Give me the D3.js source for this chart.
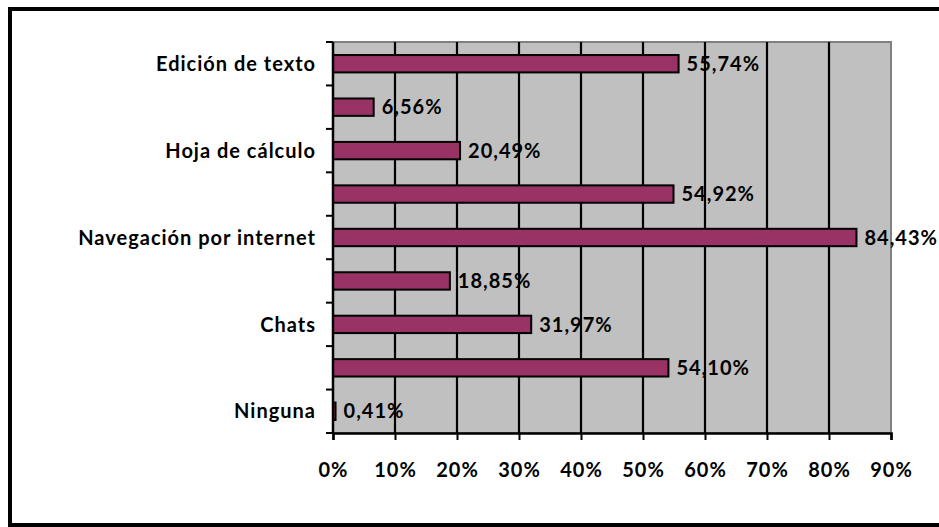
<!DOCTYPE html>
<html>
<head>
<meta charset="utf-8">
<script src="https://cdn.jsdelivr.net/npm/d3@7"></script>
<style>
  html, body { margin: 0; padding: 0; background: #fff; }
  svg { display: block; }
  text { font-family: Lato, "Open Sans", sans-serif; font-weight: bold; fill: #000; letter-spacing: 1px; }
</style>
</head>
<body>
<svg id="chart" width="939" height="527"></svg>
<script>
// Usage of the computer, share of respondents (%), top to bottom
const categories = ["Edición de texto", "", "Hoja de cálculo", "", "Navegación por internet", "", "Chats", "", "Ninguna"];
const values = [55.74, 6.56, 20.49, 54.92, 84.43, 18.85, 31.97, 54.10, 0.41];
const xTicks = [0, 10, 20, 30, 40, 50, 60, 70, 80, 90];

const svg = d3.select("#chart");
const plot = { left: 333, top: 42, right: 891, bottom: 433 };
const fontSize = 20;

// outer frame (right edge runs past the canvas)
svg.append("rect")
  .attr("x", 10).attr("y", 9)
  .attr("width", 950).attr("height", 516)
  .attr("fill", "#fff").attr("stroke", "#000").attr("stroke-width", 4);

const x = d3.scaleLinear().domain([0, 90]).range([plot.left, plot.right]);
const y = d3.scaleBand().domain(d3.range(categories.length))
  .range([plot.top, plot.bottom]).paddingInner(0.6).paddingOuter(0.3);
const yEdges = d3.scaleLinear().domain([0, categories.length]).range([plot.top, plot.bottom]);

// plot background
svg.append("rect")
  .attr("x", plot.left).attr("y", plot.top)
  .attr("width", plot.right - plot.left).attr("height", plot.bottom - plot.top)
  .attr("fill", "#c0c0c0").attr("stroke", "#808080").attr("stroke-width", 2);

// vertical gridlines
svg.append("g").selectAll("line")
  .data(xTicks.filter(t => t > 0 && t < 90))
  .join("line")
  .attr("x1", d => x(d)).attr("x2", d => x(d))
  .attr("y1", plot.top).attr("y2", plot.bottom)
  .attr("stroke", "#000").attr("stroke-width", 2.2);

// bars
svg.append("g").selectAll("rect")
  .data(values)
  .join("rect")
  .attr("x", x(0))
  .attr("y", (d, i) => y(i))
  .attr("width", d => x(d) - x(0))
  .attr("height", y.bandwidth())
  .attr("fill", "#993366")
  .attr("stroke", "#000").attr("stroke-width", 2);

// value labels
svg.append("g").selectAll("text")
  .data(values)
  .join("text")
  .attr("x", d => x(d) + 8)
  .attr("y", (d, i) => y(i) + y.bandwidth() / 2)
  .attr("dy", "0.36em")
  .attr("font-size", fontSize)
  .text(d => d.toFixed(2).replace(".", ",") + "%");

// x axis
const xAxis = d3.axisBottom(x).tickValues(xTicks).tickSize(7).tickPadding(23)
  .tickFormat(d => d + "%");
const gx = svg.append("g").attr("transform", `translate(0,${plot.bottom})`).call(xAxis);
gx.select(".domain").attr("stroke", "#000").attr("stroke-width", 2.5);
gx.selectAll(".tick line").attr("stroke", "#000").attr("stroke-width", 2);
gx.selectAll(".tick text").attr("font-size", fontSize).attr("font-family", null);

// y axis: ticks on category boundaries, labels on every other category
const yAxisLine = svg.append("g");
yAxisLine.append("line")
  .attr("x1", plot.left).attr("x2", plot.left)
  .attr("y1", plot.top).attr("y2", plot.bottom)
  .attr("stroke", "#000").attr("stroke-width", 2.5);
yAxisLine.selectAll("line.tick")
  .data(d3.range(categories.length + 1))
  .join("line").attr("class", "tick")
  .attr("x1", plot.left - 7).attr("x2", plot.left)
  .attr("y1", d => yEdges(d)).attr("y2", d => yEdges(d))
  .attr("stroke", "#000").attr("stroke-width", 2);
svg.append("g").selectAll("text")
  .data(categories)
  .join("text")
  .attr("x", plot.left - 17)
  .attr("y", (d, i) => y(i) + y.bandwidth() / 2)
  .attr("dy", "0.36em")
  .attr("text-anchor", "end")
  .attr("font-size", fontSize)
  .text(d => d);
</script>
</body>
</html>
